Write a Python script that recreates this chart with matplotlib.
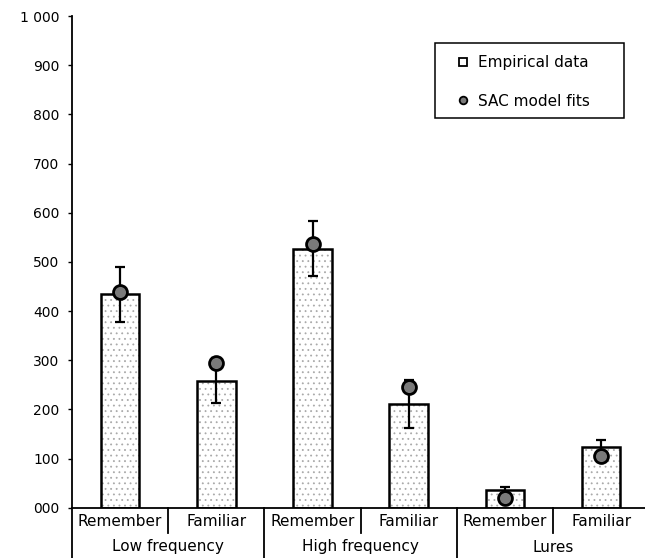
"""Remember/familiar responses: empirical data vs SAC model fits."""
import matplotlib.pyplot as plt
from matplotlib.lines import Line2D
from matplotlib.patches import Rectangle
from matplotlib.transforms import blended_transform_factory

plt.rcParams["font.family"] = ["DejaVu Sans"]
plt.rcParams["hatch.linewidth"] = 0.6

groups = ["Low frequency", "High frequency", "Lures"]
responses = ["Remember", "Familiar"]
empirical = [434, 258, 527, 211, 36, 124]
errors = [56, 46, 56, 48, 7, 13]
sac_fits = [438, 294, 536, 246, 19, 105]
y_ticks = [0, 100, 200, 300, 400, 500, 600, 700, 800, 900, 1000]
y_labels = ["000", "100", "200", "300", "400", "500", "600", "700", "800", "900", "1 000"]

W, H = 645, 558
fig = plt.figure(figsize=(W / 100, H / 100), dpi=100)
left, right, bottom, top = 72, 645, 507.7, 16
ax = fig.add_axes([left / W, 1 - bottom / H, (right - left) / W, (bottom - top) / H])

x = list(range(len(empirical)))
# stipple fill, then the black outline on top
ax.bar(x, empirical, width=0.4, color="white", edgecolor="#aaaaaa",
       hatch="...", linewidth=0, zorder=1)
ax.bar(x, empirical, width=0.4, color="none", edgecolor="black",
       linewidth=1.8, zorder=2)
ax.errorbar(x, empirical, yerr=errors, fmt="none", ecolor="black",
            elinewidth=1.6, capsize=3.5, capthick=1.6, zorder=3)
ax.plot(x, sac_fits, "o", markersize=10, markerfacecolor="#7a7a7a",
        markeredgecolor="black", markeredgewidth=2, zorder=4)

cat_w = 96.2
ax.set_xlim(-0.5, -0.5 + (right - left) / cat_w)
ax.set_ylim(0, 1000)
ax.set_yticks(y_ticks)
ax.set_yticklabels(y_labels, fontsize=10)
ax.tick_params(axis="y", length=3, width=1, pad=6)
ax.set_xticks([])
for s in ["top", "right"]:
    ax.spines[s].set_visible(False)
ax.spines["left"].set_linewidth(1.3)
ax.spines["bottom"].set_linewidth(1.3)


# category label table below the axis
def ax_y(px):
    return (1 - px / H - (1 - bottom / H)) / ((bottom - top) / H)


bt = blended_transform_factory(ax.transData, ax.transAxes)
ax.plot([-0.5, -0.5], [0, ax_y(H)], color="black", lw=1.3, transform=bt, clip_on=False)
for xs in [0.5, 2.5, 4.5]:
    ax.plot([xs, xs], [0, ax_y(533)], color="black", lw=1.3, transform=bt, clip_on=False)
for xs in [1.5, 3.5]:
    ax.plot([xs, xs], [0, ax_y(H)], color="black", lw=1.3, transform=bt, clip_on=False)

for i in x:
    ax.text(i, ax_y(522), responses[i % 2], transform=bt, ha="center", va="center",
            fontsize=11, clip_on=False)
for g, name in enumerate(groups):
    ax.text(2 * g + 0.5, ax_y(547), name, transform=bt, ha="center", va="center",
            fontsize=11, clip_on=False)

# legend: entries plus a plain box drawn separately
handles = [
    Line2D([], [], marker="s", linestyle="none", markersize=5.5,
           markerfacecolor="white", markeredgecolor="black", markeredgewidth=1.3),
    Line2D([], [], marker="o", linestyle="none", markersize=5.5,
           markerfacecolor="#7a7a7a", markeredgecolor="black", markeredgewidth=1.3),
]
fig.legend(handles, ["Empirical data", "SAC model fits"], loc="upper left",
           bbox_to_anchor=(455 / W, 1 - 55 / H), borderaxespad=0, borderpad=0,
           fontsize=11, frameon=False, labelspacing=1.55,
           handletextpad=0.5, handlelength=1.0)
fig.add_artist(Rectangle((435 / W, 1 - 118 / H), (624 - 435) / W, (118 - 43) / H,
                         transform=fig.transFigure, facecolor="none",
                         edgecolor="black", linewidth=1.1))

fig.savefig("out.png", dpi=100)
